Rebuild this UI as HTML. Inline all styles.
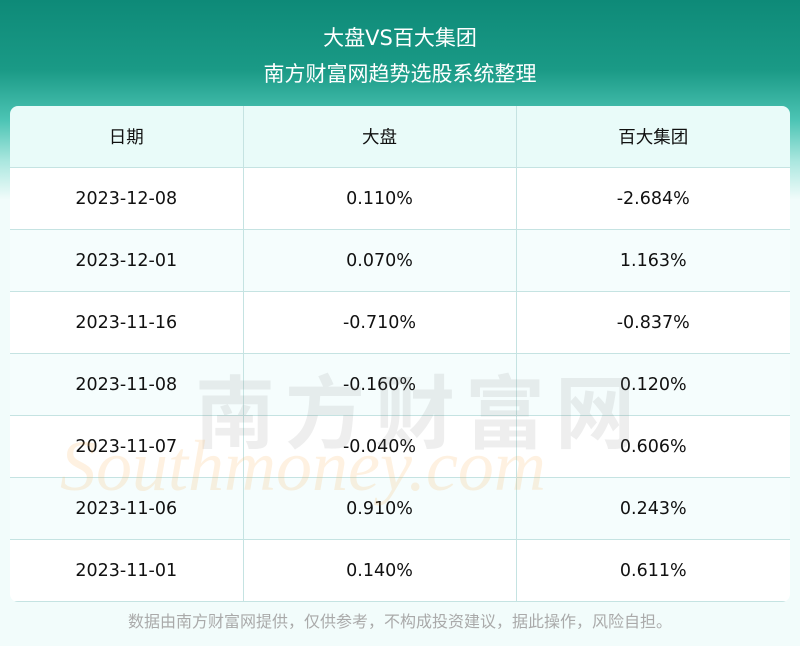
<!DOCTYPE html>
<html><head><meta charset="utf-8"><style>
body{margin:0;width:800px;height:646px;overflow:hidden;position:relative;font-family:"DejaVu Sans","Noto Sans CJK SC",sans-serif;background:#f2fcfb}
.bg{position:absolute;left:0;top:0;width:800px;height:200px;background:linear-gradient(180deg,#0e8a78 0%,#1a9a86 35%,#4cc4b4 60%,#a8e6de 80%,#f2fcfb 100%)}
.t1{position:absolute;top:22px;width:800px;text-align:center;color:#fff;font-size:21px}
.t2{position:absolute;top:58px;width:800px;text-align:center;color:#fff;font-size:21px}
table{position:absolute;left:10px;top:106px;width:780px;border-collapse:collapse;border-radius:8px;overflow:hidden}
td{height:61px;border-right:1px solid #c5e3e2;border-bottom:1px solid #c5e3e2;text-align:center;font-size:17.5px;color:#111;padding:0}
td:last-child{border-right:none}
tr:nth-child(odd) td{background:#f5fdfd}
tr:nth-child(even) td{background:#fff}
tr:first-child td{background:#e9fbf9}
.wm{position:absolute;left:195px;top:350px;font-size:80px;color:rgba(120,120,120,0.13);letter-spacing:10px;font-family:"Noto Sans CJK SC",sans-serif;font-weight:bold}
.wm2{position:absolute;left:60px;top:425px;font-size:72px;color:rgba(250,180,90,0.18);font-family:"Liberation Serif",serif;font-style:italic}
.ft{position:absolute;top:608px;width:800px;text-align:center;color:#aaa;font-size:16px}
</style></head><body>
<div class="bg"></div>
<div class="t1">大盘VS百大集团</div>
<div class="t2">南方财富网趋势选股系统整理</div>
<table>
<colgroup><col style="width:233px"><col style="width:273px"><col></colgroup>
<tr><td>日期</td><td>大盘</td><td>百大集团</td></tr>
<tr><td>2023-12-08</td><td>0.110%</td><td>-2.684%</td></tr>
<tr><td>2023-12-01</td><td>0.070%</td><td>1.163%</td></tr>
<tr><td>2023-11-16</td><td>-0.710%</td><td>-0.837%</td></tr>
<tr><td>2023-11-08</td><td>-0.160%</td><td>0.120%</td></tr>
<tr><td>2023-11-07</td><td>-0.040%</td><td>0.606%</td></tr>
<tr><td>2023-11-06</td><td>0.910%</td><td>0.243%</td></tr>
<tr><td>2023-11-01</td><td>0.140%</td><td>0.611%</td></tr>
</table>
<div class="wm">南方财富网</div>
<div class="wm2">Southmoney.com</div>
<div class="ft">数据由南方财富网提供，仅供参考，不构成投资建议，据此操作，风险自担。</div>
</body></html>
